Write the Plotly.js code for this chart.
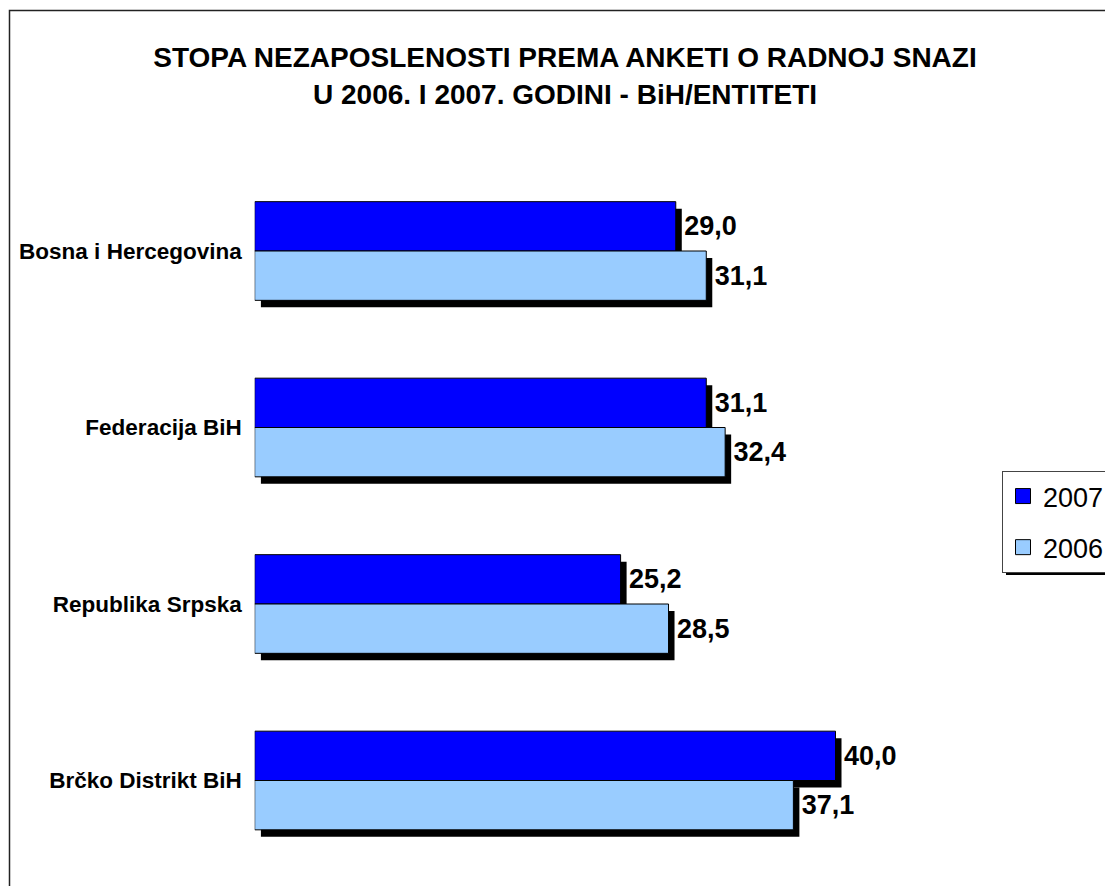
<!DOCTYPE html>
<html>
<head>
<meta charset="utf-8">
<script src="https://cdn.plot.ly/plotly-3.0.1.min.js"></script>
<style>html,body{margin:0;padding:0;background:#fff;}</style>
</head>
<body>
<div id="chart" style="width:1105px;height:886px;"></div>
<script>
const categories = ['Bosna i Hercegovina', 'Federacija BiH', 'Republika Srpska', 'Brčko Distrikt BiH'];
const values2007 = [29.0, 31.1, 25.2, 40.0];
const values2006 = [31.1, 32.4, 28.5, 37.1];
const seriesNames = ['2007', '2006'];
const seriesColors = ['#0000FF', '#99CCFF'];
const titleLine1 = 'STOPA NEZAPOSLENOSTI PREMA ANKETI O RADNOJ SNAZI';
const titleLine2 = 'U 2006. I 2007. GODINI - BiH/ENTITETI';

const W = 1105, H = 886;
const FONT = 'Liberation Sans, Arial, sans-serif';
const seriesValues = [values2007, values2006];

// main plot area in pixels
const plotL = 254.7, plotR = 254.7 + 45 * 14.52, plotT = 162.75, plotB = 868.75;
const shX = 6, shY = 7;

const traces = [];
// shadow traces (drawn first, on subplot xy)
seriesValues.forEach((vals, i) => {
  traces.push({
    type: 'bar', orientation: 'h',
    y: categories, x: vals,
    xaxis: 'x', yaxis: 'y',
    marker: {color: '#000000', line: {width: 0}},
    showlegend: false, hoverinfo: 'skip'
  });
});
// main traces (subplot x2y2, on top)
seriesValues.forEach((vals, i) => {
  traces.push({
    type: 'bar', orientation: 'h',
    name: seriesNames[i],
    legendgroup: seriesNames[i],
    showlegend: false,
    y: categories, x: vals,
    xaxis: 'x2', yaxis: 'y2',
    marker: {color: seriesColors[i], line: {color: '#000000', width: 1}},
    texttemplate: '\u2009%{x:.1f}',
    textposition: 'outside',
    constraintext: 'none',
    cliponaxis: false,
    textfont: {family: FONT, size: 27, color: '#000000', weight: 700}
  });
});
// legend entries (square swatches like the original legend)
seriesNames.forEach((name, i) => {
  traces.push({
    type: 'scatter', mode: 'markers',
    name: name, legendgroup: name,
    x: [null], y: [null],
    xaxis: 'x2', yaxis: 'y2',
    marker: {symbol: 'square', size: 15, color: seriesColors[i], line: {color: '#000000', width: 1}},
    hoverinfo: 'skip'
  });
});

const hiddenX = {range: [0, 45], showgrid: false, zeroline: false, showticklabels: false, showline: false, ticks: '', fixedrange: true};
const layout = {
  width: W, height: H,
  margin: {l: 0, r: 0, t: 0, b: 0, autoexpand: false},
  paper_bgcolor: '#ffffff',
  plot_bgcolor: 'rgba(0,0,0,0)',
  separators: ',.',
  barmode: 'group',
  bargap: 0.441,
  bargroupgap: 0,
  font: {family: FONT, color: '#000000'},
  title: {
    text: titleLine1,
    font: {family: FONT, size: 28, color: '#000000', weight: 700},
    x: 565 / W, xanchor: 'center', xref: 'container',
    y: 1 - 57 / H, yanchor: 'middle', yref: 'container'
  },
  annotations: [{
    text: titleLine2, showarrow: false,
    xref: 'paper', yref: 'paper',
    x: 565 / W, y: 1 - 95 / H, xanchor: 'center', yanchor: 'middle',
    font: {family: FONT, size: 28, color: '#000000', weight: 700}
  }],
  xaxis: Object.assign({}, hiddenX, {domain: [(plotL + shX) / W, (plotR + shX) / W], anchor: 'y'}),
  yaxis: {domain: [(H - plotB - shY) / H, (H - plotT - shY) / H], anchor: 'x', type: 'category',
          range: [3.5, -0.5], showticklabels: false, showgrid: false, zeroline: false, showline: false, ticks: '', fixedrange: true},
  xaxis2: Object.assign({}, hiddenX, {domain: [plotL / W, plotR / W], anchor: 'y2'}),
  yaxis2: {domain: [(H - plotB) / H, (H - plotT) / H], anchor: 'x2', type: 'category',
           range: [3.5, -0.5], showgrid: false, zeroline: false, showline: false, ticks: '',
           ticklabelstandoff: 12, automargin: false, fixedrange: true,
           tickfont: {family: FONT, size: 22.5, color: '#000000', weight: 700}},
  legend: {
    x: 1002 / W, y: 1 - 471 / H, xanchor: 'left', yanchor: 'top',
    bgcolor: '#ffffff', bordercolor: '#444444', borderwidth: 1,
    font: {family: FONT, size: 27, color: '#000000'},
    traceorder: 'grouped', tracegroupgap: 13
  },
  shapes: [
    {type: 'rect', xref: 'paper', yref: 'paper', layer: 'below',
     x0: 9.5 / W, x1: 1.2, y0: -0.2, y1: 1 - 10.5 / H,
     line: {color: '#222222', width: 1.5}, fillcolor: 'rgba(0,0,0,0)'},
    {type: 'rect', xref: 'paper', yref: 'paper', layer: 'above',
     x0: 1006 / W, x1: 1.2, y0: 1 - 575 / H, y1: 1 - 476 / H,
     line: {width: 0}, fillcolor: '#000000'}
  ]
};

Plotly.newPlot('chart', traces, layout, {displayModeBar: false, staticPlot: true});
</script>
</body>
</html>
